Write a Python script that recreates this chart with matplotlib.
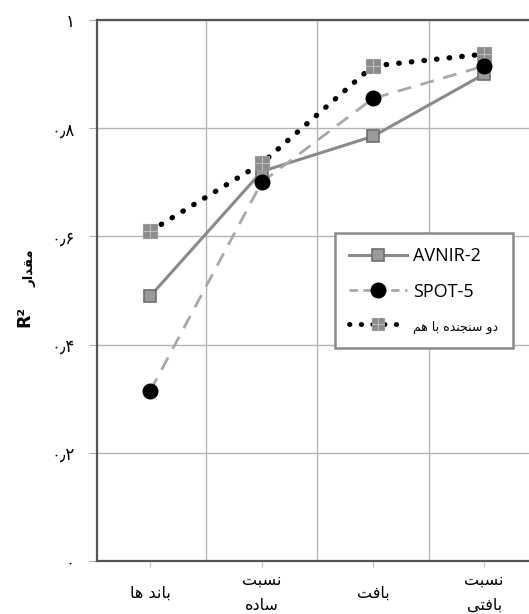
import matplotlib
matplotlib.use("Agg")
import matplotlib.pyplot as plt
from matplotlib.legend_handler import HandlerTuple
from matplotlib.lines import Line2D

# ---------------- data ----------------
categories = ["باند ها", "نسبت\nساده", "بافت", "نسبت\nبافتی"]
avnir = [0.49, 0.72, 0.785, 0.90]
spot = [0.315, 0.70, 0.855, 0.915]
combined = [0.61, 0.735, 0.915, 0.937]
series_names = ["AVNIR-2", "SPOT-5", "دو سنجنده با هم"]
y_ticks = [0, 0.2, 0.4, 0.6, 0.8, 1.0]
y_tick_labels = ["۰", "۰٫۲", "۰٫۴", "۰٫۶", "۰٫۸", "۱"]
y_label_word = "مقدار"

# ------------- minimal Arabic/Persian shaping (visual order) -------------
FORMS = {  # isolated, final, initial, medial
    "ا": ("\uFE8D", "\uFE8E", None, None),
    "ب": ("\uFE8F", "\uFE90", "\uFE91", "\uFE92"),
    "ت": ("\uFE95", "\uFE96", "\uFE97", "\uFE98"),
    "ج": ("\uFE9D", "\uFE9E", "\uFE9F", "\uFEA0"),
    "د": ("\uFEA9", "\uFEAA", None, None),
    "ر": ("\uFEAD", "\uFEAE", None, None),
    "س": ("\uFEB1", "\uFEB2", "\uFEB3", "\uFEB4"),
    "ف": ("\uFED1", "\uFED2", "\uFED3", "\uFED4"),
    "ق": ("\uFED5", "\uFED6", "\uFED7", "\uFED8"),
    "م": ("\uFEE1", "\uFEE2", "\uFEE3", "\uFEE4"),
    "ن": ("\uFEE5", "\uFEE6", "\uFEE7", "\uFEE8"),
    "ه": ("\uFEE9", "\uFEEA", "\uFEEB", "\uFEEC"),
    "و": ("\uFEED", "\uFEEE", None, None),
    "ی": ("\uFBFC", "\uFBFD", "\uFBFE", "\uFBFF"),
}


def joins_left(ch):
    return ch in FORMS and FORMS[ch][2] is not None


def shape_line(s):
    out = []
    n = len(s)
    for i, ch in enumerate(s):
        if ch not in FORMS:
            out.append(ch)
            continue
        prev_c = i > 0 and joins_left(s[i - 1])
        next_c = i < n - 1 and s[i + 1] in FORMS and joins_left(ch)
        iso, fin, ini, med = FORMS[ch]
        if prev_c and next_c:
            out.append(med)
        elif prev_c:
            out.append(fin)
        elif next_c:
            out.append(ini)
        else:
            out.append(iso)
    return "".join(out)[::-1]


def shape(s):
    return "\n".join(shape_line(l) for l in s.split("\n"))


plt.rcParams["font.family"] = ["DejaVu Sans"]

fig = plt.figure(figsize=(5.29, 6.14), dpi=100)
ax = fig.add_axes([97 / 529, 1 - 561 / 614, 1 - 97 / 529 + 0.01, (561 - 20) / 614])

x = list(range(len(categories)))

ax.plot(x, avnir, color="#8a8a8a", lw=2.2, marker="s", ms=9,
        mfc="#9a9a9a", mec="#6e6e6e", mew=1.2, zorder=3)
ax.plot(x, spot, color="#a8a8a8", lw=2, ls=(0, (5, 3.5)), marker="o", ms=10.5,
        mfc="black", mec="black", zorder=4)
ax.plot(x, combined, color="black", lw=3.8, ls=(0, (0.1, 2.3)),
        dash_capstyle="round", zorder=2)
ax.plot(x, combined, ls="none", marker="s", ms=9.5, mfc="#8c8c8c",
        mec="#999999", mew=0.8, zorder=3)
ax.plot(x, combined, ls="none", marker="+", ms=9.5, mec="#bdbdbd",
        mew=0.8, zorder=3)

ax.set_xlim(-0.48, 3.45)
ax.set_ylim(0, 1)

ax.set_yticks(y_ticks)
ax.set_yticklabels(y_tick_labels, fontsize=12)
ax.set_xticks(x)
ax.set_xticklabels([shape(c) for c in categories], fontsize=11.5)
for lab in ax.get_xticklabels():
    lab.set_va("center")
    lab.set_linespacing(1.8)
ax.set_xticks([0.5, 1.5, 2.5], minor=True)

ax.tick_params(axis="x", which="major", length=4, color="#c0c0c0", pad=19)
ax.tick_params(axis="x", which="minor", length=0)
ax.tick_params(axis="y", length=6, color="#b0b0b0", pad=10)

ax.grid(True, axis="y", color="#b4b4b4", lw=1)
ax.grid(True, axis="x", which="minor", color="#b4b4b4", lw=1)
ax.grid(False, axis="x", which="major")
ax.set_axisbelow(True)

for side in ["left", "bottom", "top"]:
    ax.spines[side].set_color("#555555")
    ax.spines[side].set_linewidth(1.6)
ax.spines["right"].set_visible(False)

# y label: R² and the Persian word
fig.text(24 / 529, 1 - 316 / 614, "R²", rotation=90, fontsize=12.5,
         fontweight="bold", ha="center", va="center")
fig.text(30 / 529, 1 - 268 / 614, shape(y_label_word), rotation=90,
         fontsize=9.5, ha="center", va="center", fontweight="bold")

# legend
h1 = Line2D([], [], color="#8a8a8a", lw=2.2, marker="s", ms=9,
            mfc="#9a9a9a", mec="#6e6e6e", mew=1.2)
h2 = Line2D([], [], color="#a8a8a8", lw=2, ls=(0, (3, 2)), marker="o", ms=10.5,
            mfc="black", mec="black")
h3a = Line2D([], [], color="black", lw=3.5, ls=(0, (0.1, 2.3)),
             dash_capstyle="round")
h3b = Line2D([], [], ls="none", marker="s", ms=8, mfc="#8c8c8c",
             mec="#999999", mew=0.8)
h3c = Line2D([], [], ls="none", marker="+", ms=8, mec="#bdbdbd", mew=0.8)
leg = ax.legend([h1, h2, (h3a, h3b, h3c)],
                [series_names[0], series_names[1], shape(series_names[2])],
                handler_map={tuple: HandlerTuple(ndivide=1, pad=0)},
                loc="upper left", bbox_to_anchor=((332 - 97) / 432, 1 - (233 - 20) / 541),
                frameon=True, fancybox=False, edgecolor="#8a8a8a",
                framealpha=1, fontsize=13, handlelength=3.2, labelspacing=0.95,
                borderpad=0.8, handletextpad=0.35, borderaxespad=0)
leg.get_frame().set_linewidth(1.8)
texts = leg.get_texts()
texts[0].set_family(["Open Sans", "DejaVu Sans"])
texts[1].set_family(["Open Sans", "DejaVu Sans"])
texts[2].set_fontsize(9)

fig.savefig("out.png", dpi=100, facecolor="white")
